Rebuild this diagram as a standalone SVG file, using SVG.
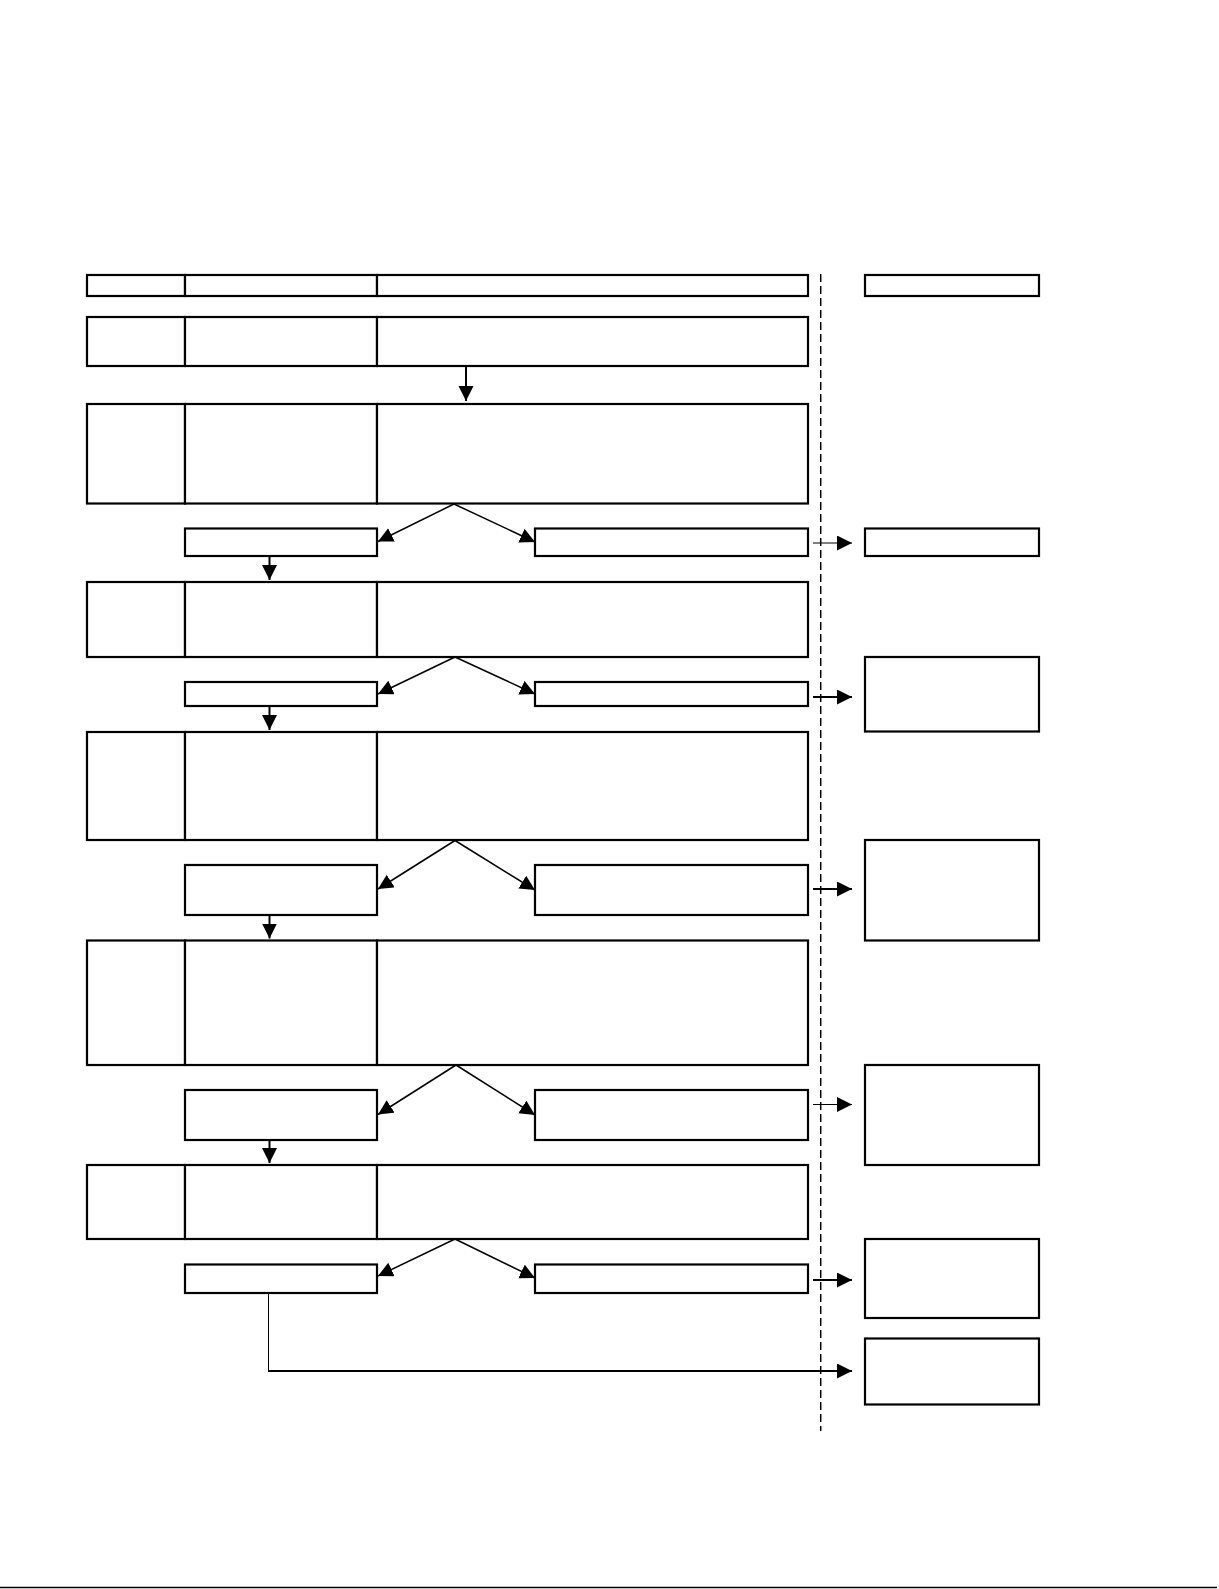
<svg xmlns="http://www.w3.org/2000/svg" width="1219" height="1589" viewBox="0 0 1219 1589">
<style>
.b{fill:#fff;stroke:#000;stroke-width:2.2}
.c{fill:none;stroke:#000;stroke-width:1.5}
.t{fill:none;stroke:#000;stroke-width:2}
.th{fill:none;stroke:#000;stroke-width:1}
</style>
<defs>
<marker id="ah" markerUnits="userSpaceOnUse" markerWidth="16" markerHeight="16" refX="15" refY="7.5" orient="auto">
<path d="M0,0 L15,7.5 L0,15 z" fill="#000"/>
</marker>
</defs>
<rect width="1219" height="1589" fill="#fff"/>
<g id="header">
<rect class="b" x="87" y="275" width="98" height="21"/>
<rect class="b" x="185" y="275" width="192" height="21"/>
<rect class="b" x="377" y="275" width="431" height="21"/>
<rect class="b" x="865" y="275" width="174" height="21"/>
</g>
<g id="row1">
<rect class="b" x="87" y="317" width="98" height="49"/>
<rect class="b" x="185" y="317" width="192" height="49"/>
<rect class="b" x="377" y="317" width="431" height="49"/>
</g>
<g id="row2">
<rect class="b" x="87" y="404" width="98" height="99.5"/>
<rect class="b" x="185" y="404" width="192" height="99.5"/>
<rect class="b" x="377" y="404" width="431" height="99.5"/>
</g>
<g id="row3">
<rect class="b" x="87" y="582" width="98" height="75"/>
<rect class="b" x="185" y="582" width="192" height="75"/>
<rect class="b" x="377" y="582" width="431" height="75"/>
</g>
<g id="row4">
<rect class="b" x="87" y="732" width="98" height="108"/>
<rect class="b" x="185" y="732" width="192" height="108"/>
<rect class="b" x="377" y="732" width="431" height="108"/>
</g>
<g id="row5">
<rect class="b" x="87" y="940.5" width="98" height="124.5"/>
<rect class="b" x="185" y="940.5" width="192" height="124.5"/>
<rect class="b" x="377" y="940.5" width="431" height="124.5"/>
</g>
<g id="row6">
<rect class="b" x="87" y="1165" width="98" height="74"/>
<rect class="b" x="185" y="1165" width="192" height="74"/>
<rect class="b" x="377" y="1165" width="431" height="74"/>
</g>
<g id="smallA"><rect class="b" x="185" y="528.5" width="192" height="27.5"/><rect class="b" x="535" y="528.5" width="273" height="27.5"/></g>
<g id="smallB"><rect class="b" x="185" y="682" width="192" height="24"/><rect class="b" x="535" y="682" width="273" height="24"/></g>
<g id="smallC"><rect class="b" x="185" y="865" width="192" height="50"/><rect class="b" x="535" y="865" width="273" height="50"/></g>
<g id="smallD"><rect class="b" x="185" y="1090" width="192" height="50"/><rect class="b" x="535" y="1090" width="273" height="50"/></g>
<g id="smallE"><rect class="b" x="185" y="1264.5" width="192" height="28.5"/><rect class="b" x="535" y="1264.5" width="273" height="28.5"/></g>
<g id="sideA"><rect class="b" x="865" y="528.5" width="174" height="27.5"/></g>
<g id="sideB"><rect class="b" x="865" y="657" width="174" height="74.5"/></g>
<g id="sideC"><rect class="b" x="865" y="840" width="174" height="100.5"/></g>
<g id="sideD"><rect class="b" x="865" y="1065" width="174" height="100"/></g>
<g id="sideE"><rect class="b" x="865" y="1239" width="174" height="79"/></g>
<g id="sideF"><rect class="b" x="865" y="1338.5" width="174" height="66"/></g>
<g id="connectors">
<line x1="820.7" y1="274" x2="820.7" y2="1431" stroke="#000" stroke-width="1.5" stroke-dasharray="8,4"/>
<line class="t" x1="466" y1="367" x2="466" y2="401" marker-end="url(#ah)"/>
<line class="c" x1="454" y1="504" x2="378" y2="541.5" marker-end="url(#ah)"/>
<line class="c" x1="454" y1="504" x2="535" y2="542" marker-end="url(#ah)"/>
<line class="c" x1="455" y1="657" x2="378" y2="694" marker-end="url(#ah)"/>
<line class="c" x1="455" y1="657" x2="535" y2="694" marker-end="url(#ah)"/>
<line class="c" x1="455" y1="840.5" x2="378" y2="889" marker-end="url(#ah)"/>
<line class="c" x1="455" y1="840.5" x2="535" y2="890" marker-end="url(#ah)"/>
<line class="c" x1="456" y1="1065" x2="378" y2="1114.5" marker-end="url(#ah)"/>
<line class="c" x1="456" y1="1065" x2="535" y2="1115" marker-end="url(#ah)"/>
<line class="c" x1="455" y1="1239" x2="378" y2="1276" marker-end="url(#ah)"/>
<line class="c" x1="455" y1="1239" x2="535" y2="1278" marker-end="url(#ah)"/>
<line class="t" x1="269.5" y1="556" x2="269.5" y2="580" marker-end="url(#ah)"/>
<line class="t" x1="269.5" y1="706" x2="269.5" y2="730" marker-end="url(#ah)"/>
<line class="t" x1="269.5" y1="915" x2="269.5" y2="938.5" marker-end="url(#ah)"/>
<line class="t" x1="269.5" y1="1140" x2="269.5" y2="1163" marker-end="url(#ah)"/>
<line class="th" x1="813" y1="543" x2="852" y2="543" marker-end="url(#ah)"/>
<line class="t" x1="813" y1="697" x2="852" y2="697" marker-end="url(#ah)"/>
<line class="t" x1="813" y1="889" x2="852" y2="889" marker-end="url(#ah)"/>
<line class="th" x1="813" y1="1104.5" x2="852" y2="1104.5" marker-end="url(#ah)"/>
<line class="t" x1="813" y1="1280" x2="852" y2="1280" marker-end="url(#ah)"/>
<line class="th" x1="268.5" y1="1293" x2="268.5" y2="1371"/>
<line class="t" x1="268" y1="1371" x2="852" y2="1371" marker-end="url(#ah)"/>
</g>
<line x1="0" y1="1587.5" x2="1217" y2="1587.5" stroke="#000" stroke-width="1.5"/>
</svg>
